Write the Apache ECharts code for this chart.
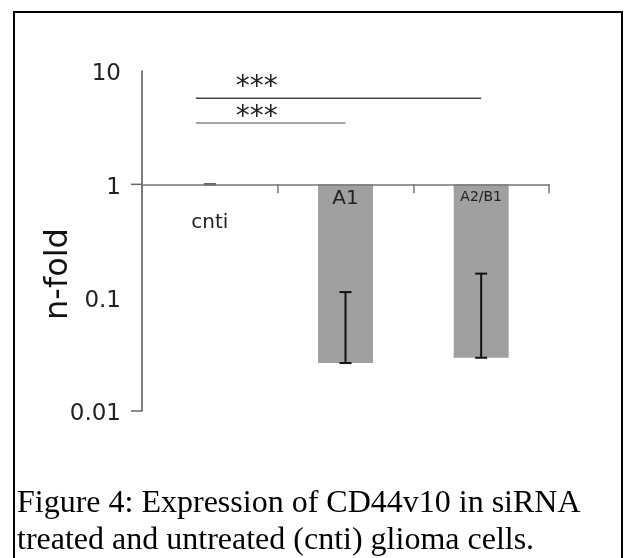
<!DOCTYPE html>
<html>
<head>
<meta charset="utf-8">
<script src="https://cdn.jsdelivr.net/npm/echarts@6/dist/echarts.min.js"></script>
<style>
  html, body { margin: 0; padding: 0; background: #fff; }
  #main { width: 635px; height: 558px; }
</style>
</head>
<body>
<div id="main"></div>
<script>
// categories and values
var categories = ['cnti', 'A1', 'A2/B1'];
var foldValues = [1, 0.0265, 0.0295];
var errLow = [1, 0.0265, 0.0295];
var errHigh = [1, 0.112, 0.163];
var yTickLabels = [0.01, 0.1, 1, 10];
var yTickMarks = [0.01, 1];
// significance brackets: from category, to category, line level, star level
var sigFrom = [0, 0];
var sigTo = [2, 1];
var sigLevel = [5.74, 3.48];
var sigStarLevel = [7.18, 3.9];
var sigText = ['***', '***'];

var gridTop = 71, gridBottom = 147, chartH = 558;
var gridH = chartH - gridTop - gridBottom;

var myChart = echarts.init(document.getElementById('main'));

var labelKey = { 'cnti': 'c', 'A1': 'a', 'A2/B1': 'b' };

var option = {
  animation: false,
  backgroundColor: '#fff',
  grid: { left: 142, right: 86, top: gridTop, bottom: gridBottom },
  xAxis: {
    type: 'category',
    data: categories,
    z: 5,
    // axis sits on the value 1 (two decades above the bottom)
    offset: -gridH * 2 / 3,
    axisLine: { lineStyle: { color: '#777', width: 1.5 } },
    axisTick: { show: true, length: 9, lineStyle: { color: '#777', width: 1.5 } },
    axisLabel: {
      margin: 4,
      color: '#222',
      fontFamily: 'DejaVu Sans',
      formatter: function (v) { return '{' + labelKey[v] + '|' + v + '}'; },
      rich: {
        c: { fontSize: 20, fontFamily: 'DejaVu Sans', color: '#222', padding: [24, 0, 0, 0] },
        a: { fontSize: 20, fontFamily: 'DejaVu Sans', color: '#222' },
        b: { fontSize: 14, fontFamily: 'DejaVu Sans', color: '#222', padding: [2, 0, 0, 0] }
      }
    },
    splitLine: { show: false }
  },
  yAxis: {
    type: 'log',
    logBase: 10,
    min: yTickLabels[0],
    max: yTickLabels[yTickLabels.length - 1],
    axisLine: { show: true, lineStyle: { color: '#555', width: 1.5 } },
    axisTick: { show: false },
    axisLabel: {
      margin: 21,
      color: '#222',
      fontSize: 23,
      fontFamily: 'DejaVu Sans',
      formatter: function (v) { return '{v|' + v + '}'; },
      rich: {
        v: { fontSize: 23, fontFamily: 'DejaVu Sans', color: '#222', padding: [7, 0, 0, 0] }
      }
    },
    splitLine: { show: false }
  },
  graphic: [
    {
      type: 'rect',
      shape: { x: 14, y: 12, width: 608, height: 570 },
      style: { fill: 'none', stroke: '#000', lineWidth: 2 }
    },
    {
      type: 'text',
      x: 59, y: 274,
      rotation: Math.PI / 2,
      style: {
        text: 'n-fold',
        fontSize: 32,
        fontFamily: 'DejaVu Sans',
        fill: '#111',
        align: 'center',
        verticalAlign: 'middle'
      }
    },
    {
      type: 'text',
      left: 17, top: 485,
      style: {
        text: 'Figure 4: Expression of CD44v10 in siRNA\ntreated and untreated (cnti) glioma cells.',
        fontSize: 32,
        fontFamily: 'Liberation Serif',
        lineHeight: 37,
        fill: '#000'
      }
    }
  ],
  series: [
    {
      type: 'bar',
      data: foldValues,
      barWidth: 55,
      itemStyle: { color: '#a0a0a0' },
      z: 2
    },
    {
      // error bars
      type: 'custom',
      z: 4,
      data: categories.map(function (c, i) { return [i, errLow[i], errHigh[i]]; }),
      encode: { x: 0, y: [1, 2] },
      renderItem: function (params, api) {
        var i = api.value(0);
        var lo = api.coord([i, api.value(1)]);
        var hi = api.coord([i, api.value(2)]);
        var half = 6;
        var col = lo[1] === hi[1] ? '#555' : '#111';
        var st = { stroke: col, lineWidth: 2 };
        return {
          type: 'group',
          children: [
            { type: 'line', shape: { x1: hi[0], y1: hi[1], x2: lo[0], y2: lo[1] }, style: st },
            { type: 'line', shape: { x1: hi[0] - half, y1: hi[1], x2: hi[0] + half, y2: hi[1] }, style: st },
            { type: 'line', shape: { x1: lo[0] - half, y1: lo[1], x2: lo[0] + half, y2: lo[1] }, style: st }
          ]
        };
      }
    },
    {
      // y axis ticks at 0.01 and 1
      type: 'custom',
      z: 4,
      data: yTickMarks.map(function (v) { return [0, v]; }),
      encode: { x: 0, y: 1 },
      renderItem: function (params, api) {
        var p = api.coord([0, api.value(1)]);
        var x0 = p[0] - api.size([1, 0])[0] / 2;
        return {
          type: 'line',
          shape: { x1: x0 - 11, y1: p[1], x2: x0, y2: p[1] },
          style: { stroke: '#666', lineWidth: 1.5 }
        };
      }
    },
    {
      // significance lines
      type: 'custom',
      z: 4,
      data: sigFrom.map(function (f, i) { return [f, sigTo[i], sigLevel[i], sigStarLevel[i]]; }),
      encode: { x: [0, 1], y: [2, 3] },
      renderItem: function (params, api) {
        var a = api.coord([api.value(0), api.value(2)]);
        var b = api.coord([api.value(1), api.value(2)]);
        var s = api.coord([api.value(0), api.value(3)]);
        var x1 = a[0] - 14;
        return {
          type: 'group',
          children: [
            { type: 'line', shape: { x1: x1, y1: a[1], x2: b[0], y2: b[1] },
              style: { stroke: params.dataIndex === 0 ? '#444' : '#888', lineWidth: 1.5 } },
            { type: 'text', x: x1 + 61, y: s[1],
              style: { text: sigText[params.dataIndex], fontSize: 28, fontFamily: 'DejaVu Sans',
                       fill: '#222', align: 'center', verticalAlign: 'middle' } }
          ]
        };
      }
    }
  ]
};

myChart.setOption(option);
</script>
</body>
</html>
